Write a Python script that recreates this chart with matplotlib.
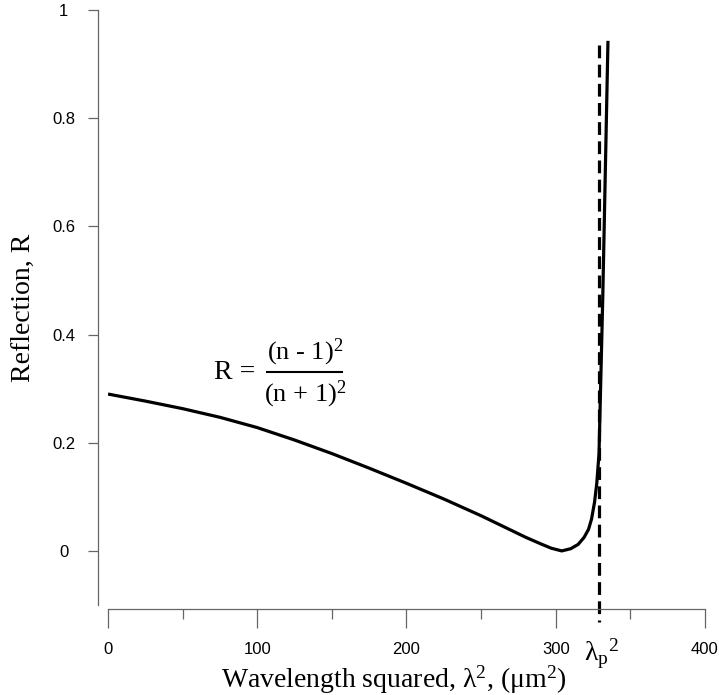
import matplotlib
matplotlib.use("Agg")
import matplotlib.pyplot as plt
from matplotlib.ticker import MultipleLocator

# ---------- DATA ----------
lam_sq = [0, 25, 50, 75, 100, 125, 150, 175, 200, 225, 250, 265, 280, 290,
          297, 304, 310, 315, 319, 322, 324, 326, 327.5, 329, 331.5, 335]
refl = [0.290, 0.277, 0.263, 0.247, 0.228, 0.205, 0.180, 0.153, 0.125, 0.096,
        0.065, 0.045, 0.025, 0.013, 0.005, 0.0, 0.004, 0.012, 0.025, 0.040,
        0.059, 0.090, 0.125, 0.18, 0.467, 0.943]
lam_p_sq = 329
x_ticks = [0, 100, 200, 300, 400]
y_ticks = [0, 0.2, 0.4, 0.6, 0.8, 1]
y_tick_labels = ["0", "0.2", "0.4", "0.6", "0.8", "1"]
# ---------------------------------------------------

plt.rcParams["mathtext.fontset"] = "custom"
plt.rcParams["mathtext.rm"] = "Liberation Serif"
plt.rcParams["mathtext.it"] = "Liberation Serif:italic"

serif = "Liberation Serif"
sans = "Liberation Sans"
spine_col = "#666666"

fig = plt.figure(figsize=(7.19, 6.95), dpi=100)
ax = fig.add_axes([0.1502, 0.1295, 0.8303, 0.8561])

ax.plot(lam_sq, refl, color="black", lw=2.3, solid_capstyle="butt")
ax.plot([lam_p_sq, lam_p_sq], [0.935, -0.131], color="black", lw=2.3,
        dashes=(4, 2), clip_on=False)

ax.set_xlim(0, 400)
ax.set_ylim(-0.1, 1.0)

for s in ["top", "right"]:
    ax.spines[s].set_visible(False)
ax.spines["left"].set_position(("outward", 7))
ax.spines["bottom"].set_position(("outward", 3))
for s in ["left", "bottom"]:
    ax.spines[s].set_color(spine_col)
    ax.spines[s].set_linewidth(0.9)

ax.set_xticks(x_ticks)
ax.set_xticklabels([str(v) for v in x_ticks], fontfamily=sans, fontsize=12)
ax.xaxis.set_minor_locator(MultipleLocator(50))
ax.set_yticks(y_ticks)
ax.set_yticklabels(y_tick_labels, fontfamily=sans, fontsize=12, ha="center")
ax.tick_params(axis="x", which="major", length=14, width=0.9, color=spine_col, pad=10)
ax.tick_params(axis="x", which="minor", length=7, width=0.9, color=spine_col)
ax.tick_params(axis="y", which="major", length=7, width=0.9, color=spine_col, pad=18)

ax.set_xlabel("Wavelength squared, λ$^2$, (μm$^2$)", fontfamily=serif, fontsize=20)
ax.xaxis.set_label_coords(0.479, -0.098)
ax.set_ylabel("Reflection, R", fontfamily=serif, fontsize=20)
ax.yaxis.set_label_coords(-0.121, 0.5)

# formula
ax.text(98.5, 0.329, "R =", fontfamily=serif, fontsize=20, ha="right", va="center")
ax.plot([106.5, 157], [0.330, 0.330], color="black", lw=1.5)
ax.text(132, 0.368, "(n - 1)$^2$", fontfamily=serif, fontsize=19, ha="center", va="center")
ax.text(132, 0.290, "(n + 1)$^2$", fontfamily=serif, fontsize=19, ha="center", va="center")

# lambda_p^2 label under the dashed line
ax.text(lam_p_sq + 2, -0.19, "λ$_{\\rm p}$$^2$", fontfamily=serif, fontsize=20,
        ha="center", va="center", clip_on=False)

fig.savefig("out.png", dpi=100)
